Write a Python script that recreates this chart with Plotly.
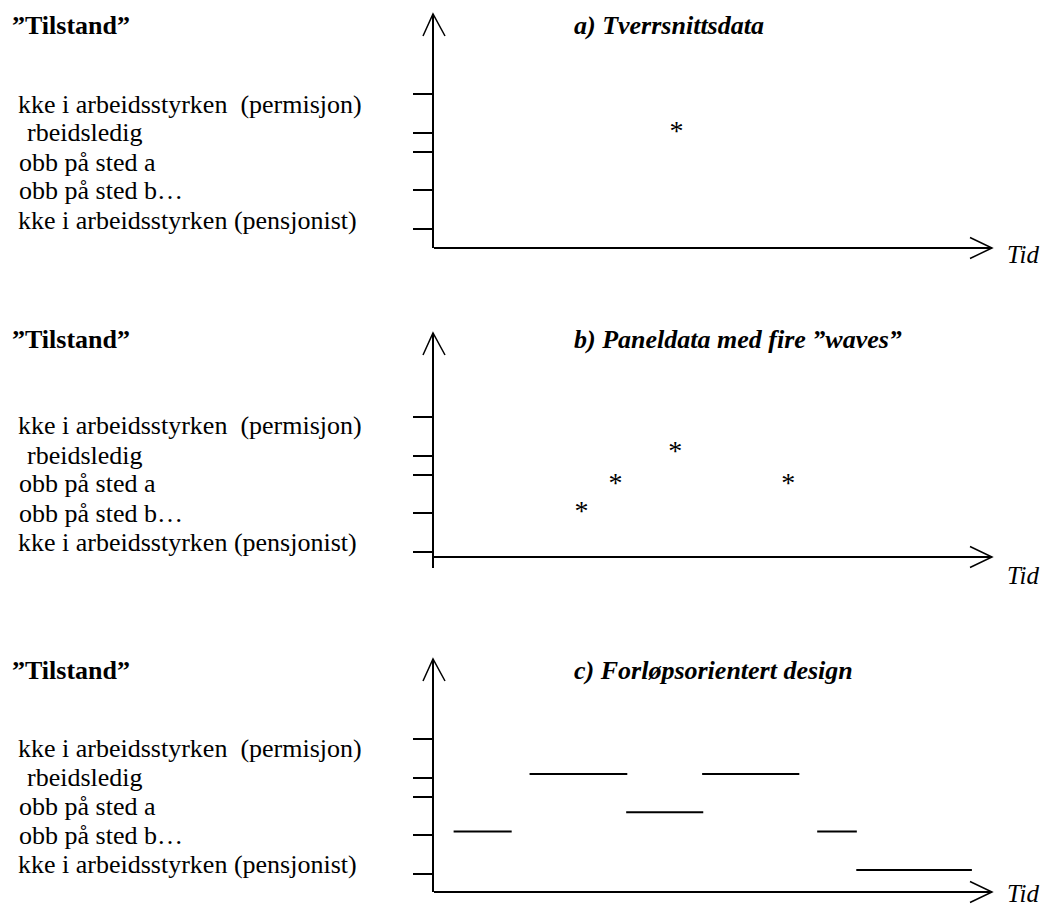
import plotly.graph_objects as go

# ---------------- data ----------------
state_labels = [
    "kke i arbeidsstyrken \u00a0(permisjon)",
    "rbeidsledig",
    "obb på sted a",
    "obb på sted b…",
    "kke i arbeidsstyrken (pensjonist)",
]
state_levels = [8, 6, 5, 3, 1]

panel_titles = [
    "a) Tverrsnittsdata",
    "b) Paneldata med fire \u201dwaves\u201d",
    "c) Forløpsorientert design",
]
y_title = "\u201dTilstand\u201d"
x_title = "Tid"

# a) cross-section: one observation
a_time = [43.5]
a_state = [6.0]

# b) panel data: four waves
b_time = [26.5, 32.6, 43.3, 63.5]
b_state = [3.0, 4.5, 6.15, 4.5]

# c) event-history: spells
c_start = [3.6, 17.2, 34.5, 48.1, 68.7, 75.7]
c_end = [14.0, 34.7, 48.3, 65.5, 75.8, 96.4]
c_state = [3.2, 6.2, 4.2, 6.2, 3.2, 1.2]

# ---------------- layout constants ----------------
W, H = 1045, 906
FONT = "Liberation Serif, Times New Roman, serif"
FS = 26
LEVEL_PX = 19.2
X0_PX, X1_PX = 433.5, 992
T_MAX = 100


def fx(p):
    return p / W


def fy(p):
    return 1 - p / H


panels = [
    dict(tip=14, base=248, ybot=248, xax=248, title_y=25, lab_y0=104, tid_y=254),
    dict(tip=333, base=571, ybot=568, xax=557, title_y=340, lab_y0=426, tid_y=575),
    dict(tip=659, base=893, ybot=892, xax=892, title_y=670, lab_y0=748, tid_y=893),
]
label_x = [16, 25, 17, 17, 16]
label_step = 29

fig = go.Figure()

# marks
star_font = dict(family=FONT, size=FS + 2, color="black")
fig.add_trace(go.Scatter(x=a_time, y=a_state, mode="text", text=["*"] * len(a_time),
                         textposition="middle center", textfont=star_font,
                         xaxis="x", yaxis="y", hoverinfo="skip", showlegend=False,
                         cliponaxis=False))
fig.add_trace(go.Scatter(x=b_time, y=b_state, mode="text", text=["*"] * len(b_time),
                         textposition="middle center", textfont=star_font,
                         xaxis="x2", yaxis="y2", hoverinfo="skip", showlegend=False,
                         cliponaxis=False))
seg_x, seg_y = [], []
for s, e, v in zip(c_start, c_end, c_state):
    seg_x += [s, e, None]
    seg_y += [v, v, None]
fig.add_trace(go.Scatter(x=seg_x, y=seg_y, mode="lines",
                         line=dict(color="black", width=2),
                         xaxis="x3", yaxis="y3", hoverinfo="skip", showlegend=False,
                         cliponaxis=False))

layout = dict(
    width=W, height=H,
    margin=dict(l=0, r=0, t=0, b=0),
    paper_bgcolor="white", plot_bgcolor="white",
    showlegend=False,
)
annotations = []
shapes = []

for i, p in enumerate(panels):
    n = i + 1
    xk = "xaxis" if n == 1 else f"xaxis{n}"
    yk = "yaxis" if n == 1 else f"yaxis{n}"
    xa = "x" if n == 1 else f"x{n}"
    layout[xk] = dict(
        domain=[fx(X0_PX), fx(X1_PX)], range=[0, T_MAX],
        showline=True, linewidth=2, linecolor="black",
        showgrid=False, zeroline=False, ticks="", showticklabels=False,
        anchor="free", position=fy(p["xax"]), fixedrange=True,
    )
    layout[yk] = dict(
        domain=[fy(p["ybot"]), fy(p["tip"])],
        range=[(p["base"] - p["ybot"]) / LEVEL_PX, (p["base"] - p["tip"]) / LEVEL_PX],
        tickvals=state_levels, ticks="outside", ticklen=19, tickwidth=2,
        tickcolor="black", showticklabels=False,
        showline=True, linewidth=2, linecolor="black",
        showgrid=False, zeroline=False, anchor=xa, fixedrange=True,
    )
    # arrowheads (open chevrons)
    t = p["tip"]
    shapes.append(dict(
        type="path", xref="paper", yref="paper",
        path=f"M {fx(423)},{fy(t + 22)} L {fx(X0_PX - 0.5)},{fy(t)} L {fx(445)},{fy(t + 22)}",
        line=dict(color="black", width=1.5),
    ))
    a = p["xax"]
    shapes.append(dict(
        type="path", xref="paper", yref="paper",
        path=f"M {fx(970)},{fy(a - 10.5)} L {fx(X1_PX)},{fy(a)} L {fx(970)},{fy(a + 10.5)}",
        line=dict(color="black", width=1.5),
    ))
    # texts
    annotations.append(dict(
        text=f"<b>{y_title}</b>", xref="paper", yref="paper",
        x=fx(10), y=fy(p["title_y"]), xanchor="left", yanchor="middle",
        showarrow=False, font=dict(family=FONT, size=FS, color="black"),
    ))
    annotations.append(dict(
        text=f"<b><i>{panel_titles[i]}</i></b>", xref="paper", yref="paper",
        x=fx(572), y=fy(p["title_y"]), xanchor="left", yanchor="middle",
        showarrow=False, font=dict(family=FONT, size=FS, color="black"),
    ))
    for j, lab in enumerate(state_labels):
        annotations.append(dict(
            text=lab, xref="paper", yref="paper",
            x=fx(label_x[j]), y=fy(p["lab_y0"] + j * label_step),
            xanchor="left", yanchor="middle", showarrow=False,
            font=dict(family=FONT, size=FS, color="black"),
        ))
    annotations.append(dict(
        text=f"<i>{x_title}</i>", xref="paper", yref="paper",
        x=fx(1005), y=fy(p["tid_y"]), xanchor="left", yanchor="middle",
        showarrow=False, font=dict(family=FONT, size=25, color="black"),
    ))

layout["annotations"] = annotations
layout["shapes"] = shapes
fig.update_layout(**layout)

fig.write_html(
    "out.html",
    config={"displayModeBar": False, "staticPlot": True},
    post_script="document.body.style.margin='0';document.body.style.overflow='hidden';",
)
